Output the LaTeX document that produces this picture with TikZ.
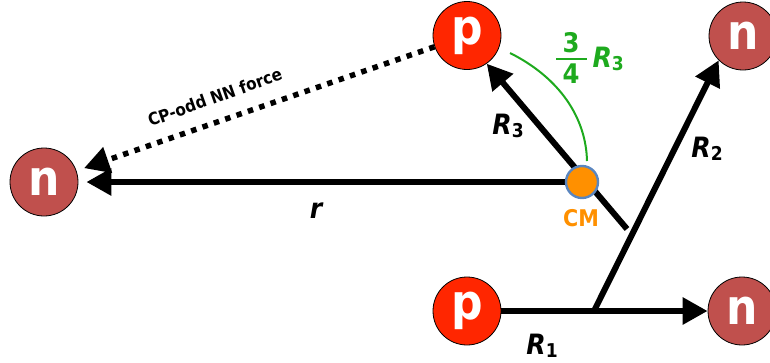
\documentclass[tikz,border=0pt]{standalone}
\usepackage{fontspec}
\setmainfont{DejaVu Sans}
\newfontfamily\cnd{DejaVu Sans Condensed}
\usetikzlibrary{arrows.meta}
\definecolor{pred}{HTML}{FF2600}
\definecolor{nred}{HTML}{C0504D}
\definecolor{cmorange}{HTML}{FF9000}
\definecolor{cmblue}{HTML}{5A86C0}
\definecolor{agreen}{HTML}{1EAA1E}
\tikzset{
  particle/.style={circle, draw=black, line width=0.8pt, minimum size=68pt, inner sep=0pt,
    text=white, font=\cnd\bfseries\fontsize{49}{49}\selectfont},
  proton/.style={particle, fill=pred},
  neutron/.style={particle, fill=nred},
  vec/.style={line width=6pt, -{Triangle[length=25pt,width=26pt]}},
  force/.style={line width=5.5pt, dash pattern=on 5.5pt off 6.5pt, -{Triangle[length=25pt,width=26pt]}},
  cmdot/.style={circle, draw=cmblue, line width=2.4pt, fill=cmorange, minimum size=32pt, inner sep=0pt},
  lab/.style={font=\cnd\bfseries\itshape\fontsize{28}{28}\selectfont},
  greenarc/.style={draw=agreen, line width=2pt},
}
\newcommand{\vsub}[1]{\raisebox{-0.12em}{\upshape\fontsize{19}{19}\selectfont #1}}
\begin{document}
\begin{tikzpicture}[x=1pt,y=-1pt]
\useasboundingbox (0,0) rectangle (770,362);
% particles
\node[neutron] (nl) at (44,182) {n};
\node[proton] (pt) at (467,35.5) {p};
\node[neutron] (ntr) at (743,36) {n};
\node[proton] (pb) at (467,311) {p};
\node[neutron] (nbr) at (742,311) {n};
% helper coordinates
\coordinate (cmc) at (582,182);
\coordinate (r3s) at (627,229);
\coordinate (r2s) at (594,311);
\coordinate (ga1) at (510,53);
\coordinate (ga2) at (587,161);
\coordinate (fb1) at (556,59);
\coordinate (fb2) at (587,59);
% vectors
\draw[vec, shorten >=8pt] (cmc) -- (nl);
\draw[vec] (r3s) -- (pt.305);
\draw[vec] (pb) -- (nbr);
\draw[vec] (r2s) -- (ntr.225);
\draw[force, shorten >=8pt] (pt) -- (nl);
% green arc
\draw[greenarc] (ga1) .. controls (560,78) and (586,118) .. (ga2);
% CM
\node[cmdot] (cm) at (cmc) {};
% labels
\node[font=\cnd\bfseries\fontsize{17}{17}\selectfont, rotate=19.7, anchor=base] (flab) at (217,103) {CP-odd NN force};
\node[lab] (lr) at (316,211) {r};
\node[lab] (lr3) at (508,126) {R\vsub{3}};
\node[lab] (lr2) at (707,149) {R\vsub{2}};
\node[lab] (lr1) at (542,346) {R\vsub{1}};
\node[font=\cnd\bfseries\fontsize{23}{23}\selectfont, text=cmorange] (lcm) at (581,218.5) {CM};
% fraction 3/4 R3
\node[font=\cnd\bfseries\fontsize{27}{27}\selectfont, text=agreen] (fnum) at (571,43) {3};
\node[font=\cnd\bfseries\fontsize{27}{27}\selectfont, text=agreen] (fden) at (571,74) {4};
\draw[agreen, line width=2.8pt] (fb1) -- (fb2);
\node[lab, text=agreen, anchor=west] (lfr) at (589,59) {R\vsub{3}};
\end{tikzpicture}
\end{document}
